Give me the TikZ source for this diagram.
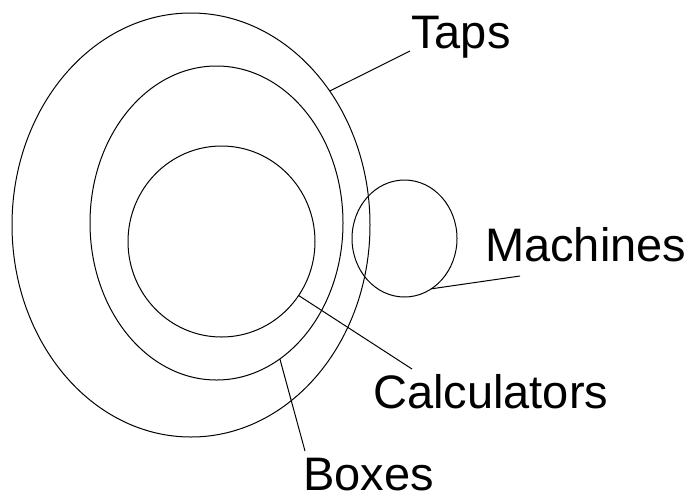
\documentclass[tikz,border=0pt]{standalone}
\usepackage{fontspec}
\setmainfont{Liberation Sans}
\usetikzlibrary{shapes.geometric}
\begin{document}
\begin{tikzpicture}[x=1pt,y=-1pt,
  set/.style={ellipse, draw, line width=1pt, inner sep=0pt, outer sep=0pt},
  lbl/.style={anchor=base west, inner sep=0pt, font=\fontsize{47}{50}\selectfont},
  lead/.style={draw, line width=1pt}]
\useasboundingbox (0,0) rectangle (690,499);
\node[set, minimum width=358pt, minimum height=424pt] (taps) at (191,225) {};
\node[set, minimum width=253pt, minimum height=314pt] (boxes) at (216.5,223) {};
\node[set, minimum width=187pt, minimum height=191pt] (calc) at (221.5,241.5) {};
\node[set, minimum width=105pt, minimum height=117pt] (mach) at (404.5,238.5) {};
\node[lbl] (tapsL) at (411,48) {Taps};
\node[lbl] (machL) at (485,261) {Machines};
\node[lbl] (calcL) at (373,408) {Calculators};
\node[lbl] (boxesL) at (303,490) {Boxes};
\coordinate (tapsE) at (410,51);
\coordinate (machE) at (520,276);
\coordinate (calcE) at (412,369);
\coordinate (boxesE) at (305,451);
\draw[lead] (taps.44.4) -- (tapsE);
\draw[lead] (mach.-62) -- (machE);
\draw[lead] (calc.-35.3) -- (calcE);
\draw[lead] (boxes.-65.5) -- (boxesE);
\end{tikzpicture}
\end{document}
